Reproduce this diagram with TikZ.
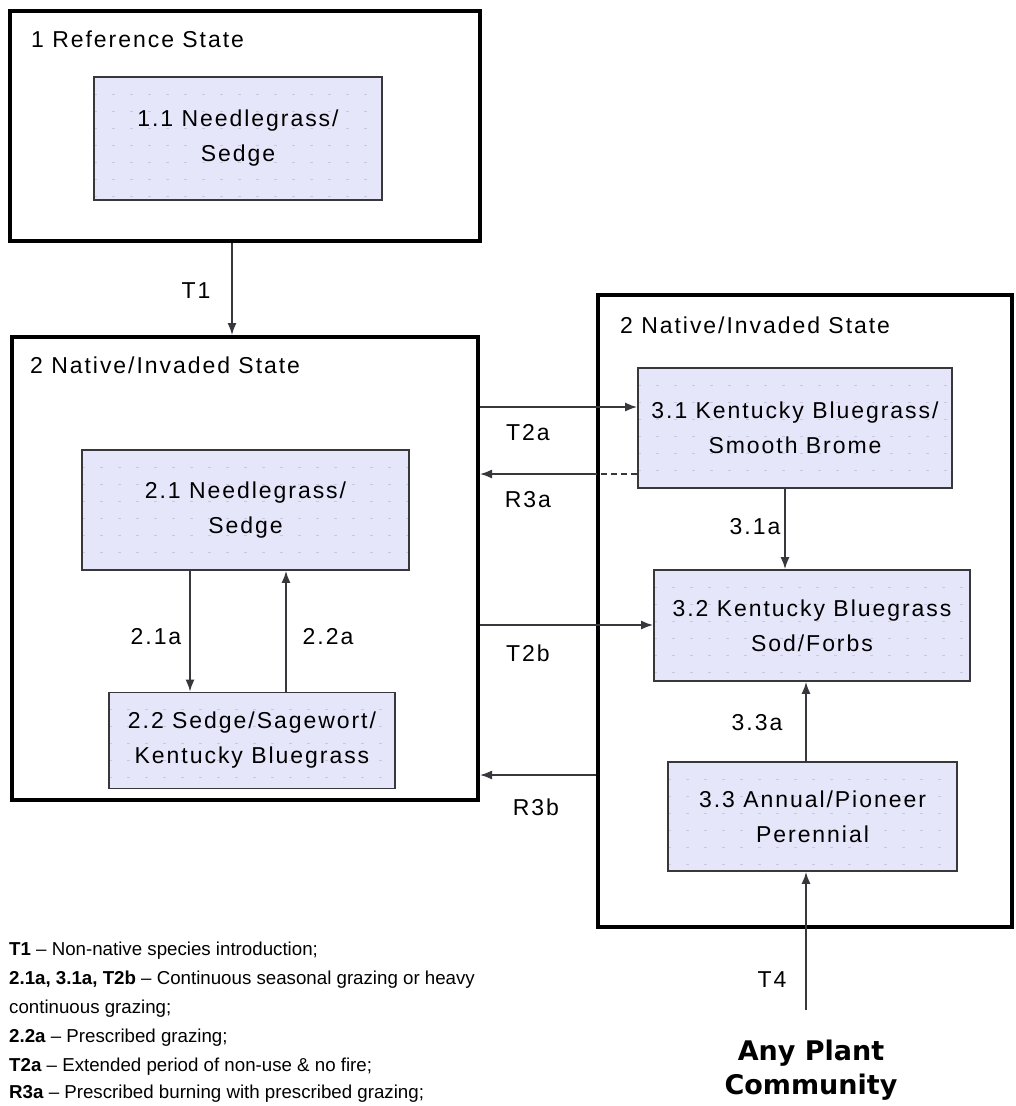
\documentclass[tikz,border=0pt]{standalone}
\usepackage{fontspec}
\setmainfont{Liberation Sans}
\newfontfamily\heavyfont{DejaVu Sans}
\usetikzlibrary{arrows.meta,calc}
\definecolor{boxfill}{RGB}{230,230,250}
\definecolor{gridcol}{RGB}{200,200,222}
\definecolor{lineg}{RGB}{55,55,60}
\newcommand\lblfont{\fontsize{23}{35}\selectfont\addfontfeatures{LetterSpace=8.5}}
\newcommand\legfont{\fontsize{18.7}{29}\selectfont}
\begin{document}
\begin{tikzpicture}[x=1pt,y=-1pt,
  statebox/.style={draw=black,line width=4pt,inner sep=0pt},
  commbox/.style={draw=lineg,line width=1.8pt,fill=boxfill,align=center,font=\lblfont,inner sep=0pt,
    path picture={\foreach \k in {1,...,9}{\draw[gridcol,line width=0.8pt,dash pattern=on 3pt off 15pt]
      ([yshift=-\k*17pt]path picture bounding box.north west) -- ([yshift=-\k*17pt]path picture bounding box.north east);}}},
  lbl/.style={font=\lblfont,inner sep=0pt},
  leg/.style={font=\legfont,inner sep=0pt,anchor=west},
  conn/.style={draw=lineg,line width=1.6pt},
  arr/.style={conn,-{Latex[length=12pt,width=9pt]}}]
\fill[white] (0,0) rectangle (1016,1106);
\useasboundingbox (0,0) rectangle (1016,1106);

% state boxes
\node[statebox,minimum width=470pt,minimum height=230pt] (s1) at (245,126) {};
\node[statebox,minimum width=466pt,minimum height=463pt] (s2) at (245,568.5) {};
\node[statebox,minimum width=414pt,minimum height=632pt] (s3) at (805,611) {};

\node[lbl,anchor=west] (l1) at (31,39) {1 Reference State};
\node[lbl,anchor=west] (l2) at (30,365) {2 Native/Invaded State};
\node[lbl,anchor=west] (l3) at (620,325) {2 Native/Invaded State};

% community boxes
\node[commbox,minimum width=288pt,minimum height=123pt] (c11) at (238,138.5) {1.1 Needlegrass/\\Sedge};
\node[commbox,minimum width=327pt,minimum height=120pt] (c21) at (245.5,510) {2.1 Needlegrass/\\Sedge};
\node[commbox,minimum width=286pt,minimum height=96pt] (c22) at (252,740.5) {2.2 Sedge/Sagewort/\\Kentucky Bluegrass};
\node[commbox,minimum width=314pt,minimum height=120pt] (c31) at (795,428) {3.1 Kentucky Bluegrass/\\Smooth Brome};
\node[commbox,minimum width=316pt,minimum height=111pt] (c32) at (812,625.5) {3.2 Kentucky Bluegrass\\Sod/Forbs};
\node[commbox,minimum width=289pt,minimum height=109pt] (c33) at (812.5,816.5) {3.3 Annual/Pioneer\\Perennial};

% helper coordinates
\coordinate (xT1) at (232,0);
\coordinate (x21a) at (190,0);
\coordinate (x22a) at (286,0);
\coordinate (x31a) at (785,0);
\coordinate (x33a) at (806,0);
\coordinate (yT2a) at (0,407);
\coordinate (yR3a) at (0,474);
\coordinate (yT2b) at (0,625);
\coordinate (yR3b) at (0,775);
\coordinate (t4start) at (806,1010);

% connectors
\draw[arr] (s1.south -| xT1) -- (s2.north -| xT1);
\draw[arr] (c21.south -| x21a) -- (c22.north -| x21a);
\draw[arr] (c22.north -| x22a) -- (c21.south -| x22a);
\draw[arr] (s2.east |- yT2a) -- (c31.west |- yT2a);
\draw[conn,dash pattern=on 6pt off 4pt] (c31.west |- yR3a) -- (s3.west |- yR3a);
\draw[arr] (s3.west |- yR3a) -- (s2.east |- yR3a);
\draw[arr] (s2.east |- yT2b) -- (c32.west |- yT2b);
\draw[arr] (s3.west |- yR3b) -- (s2.east |- yR3b);
\draw[arr] (c31.south -| x31a) -- (c32.north -| x31a);
\draw[arr] (c33.north -| x33a) -- (c32.south -| x33a);
\draw[arr] (t4start) -- (c33.south -| t4start);

% connector labels
\node[lbl] (tT1) at (196,291) {T1};
\node[lbl] (t21a) at (156,637) {2.1a};
\node[lbl] (t22a) at (328,637) {2.2a};
\node[lbl] (tT2a) at (528,433) {T2a};
\node[lbl] (tR3a) at (528,500) {R3a};
\node[lbl] (tT2b) at (528,653) {T2b};
\node[lbl] (tR3b) at (536,807) {R3b};
\node[lbl] (t31a) at (755,527) {3.1a};
\node[lbl] (t33a) at (757,723) {3.3a};
\node[lbl] (tT4) at (772,980) {T4};

\node[font=\heavyfont\bfseries\fontsize{27}{34}\selectfont,align=center,inner sep=0pt] (any) at (811,1070) {Any Plant\\Community};

% legend
\node[leg] (g1) at (9,951) {\textbf{T1} -- Non-native species introduction;};
\node[leg] (g2) at (9,980) {\textbf{2.1a, 3.1a, T2b} -- Continuous seasonal grazing or heavy};
\node[leg] (g3) at (9,1009) {continuous grazing;};
\node[leg] (g4) at (9,1038) {\textbf{2.2a} -- Prescribed grazing;};
\node[leg] (g5) at (9,1067) {\textbf{T2a} -- Extended period of non-use \& no fire;};
\node[leg] (g6) at (9,1094) {\textbf{R3a} -- Prescribed burning with prescribed grazing;};
\end{tikzpicture}
\end{document}
